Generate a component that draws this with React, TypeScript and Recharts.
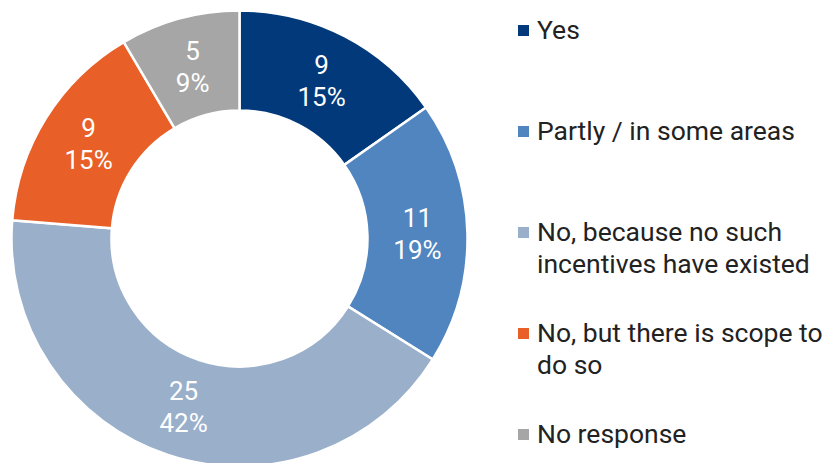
import { PieChart, Pie, Cell, Legend } from 'recharts'

const categories = [
  'Yes',
  'Partly / in some areas',
  'No, because no such incentives have existed',
  'No, but there is scope to do so',
  'No response',
]
const counts = [9, 11, 25, 9, 5]
const percentLabels = ['15%', '19%', '42%', '15%', '9%']
const colors = ['#02397A', '#5085C0', '#9AAFCA', '#E95F28', '#A6A6A6']

// legend text split the way the reference wraps it
const legendLines = [
  ['Yes'],
  ['Partly / in some areas'],
  ['No, because no such', 'incentives have existed'],
  ['No, but there is scope to', 'do so'],
  ['No response'],
]

const data = categories.map((name, i) => ({ name, value: counts[i], pct: percentLabels[i] }))

const RADIAN = Math.PI / 180

const renderLabel = (props: any) => {
  const { cx, cy, midAngle, innerRadius, outerRadius, index } = props
  const r = (innerRadius + outerRadius) / 2
  const x = cx + r * Math.cos(-midAngle * RADIAN)
  const y = cy + r * Math.sin(-midAngle * RADIAN)
  return (
    <text
      x={x}
      y={y}
      fill="#fff"
      textAnchor="middle"
      fontSize={26}
      fontFamily="Roboto"
    >
      <tspan x={x} y={y - 16} dominantBaseline="central">{counts[index]}</tspan>
      <tspan x={x} y={y + 16} dominantBaseline="central">{percentLabels[index]}</tspan>
    </text>
  )
}

const renderLegend = () => (
  <div style={{ position: 'relative', width: 320, height: 463 }}>
    {legendLines.map((lines, i) => (
      <div
        key={categories[i]}
        style={{
          position: 'absolute',
          left: 0,
          top: 14 + i * 101,
          fontFamily: 'Roboto',
          fontSize: 26.5,
          lineHeight: '32px',
          color: '#222',
          whiteSpace: 'nowrap',
        }}
      >
        <span
          style={{
            position: 'absolute',
            left: 0,
            top: 11,
            width: 11,
            height: 11,
            background: colors[i],
          }}
        />
        <div style={{ marginLeft: 19 }}>
          {lines.map((l) => (
            <div key={l}>{l}</div>
          ))}
        </div>
      </div>
    ))}
  </div>
)

export default function App() {
  return (
    <div style={{ position: 'absolute', left: 0, top: 0, background: '#fff' }}>
      <PieChart width={834} height={463} margin={{ top: 0, right: 0, bottom: 0, left: 0 }}>
        <Pie
          data={data}
          dataKey="value"
          nameKey="name"
          cx={239.5}
          cy={238.5}
          innerRadius={128}
          outerRadius={228}
          startAngle={90}
          endAngle={-270}
          stroke="#fff"
          strokeWidth={2.5}
          label={renderLabel}
          labelLine={false}
          isAnimationActive={false}
        >
          {data.map((d, i) => (
            <Cell key={d.name} fill={colors[i]} />
          ))}
        </Pie>
        <Legend
          content={renderLegend}
          wrapperStyle={{ position: 'absolute', left: 518, top: 0, width: 320, height: 463 }}
        />
      </PieChart>
    </div>
  )
}
